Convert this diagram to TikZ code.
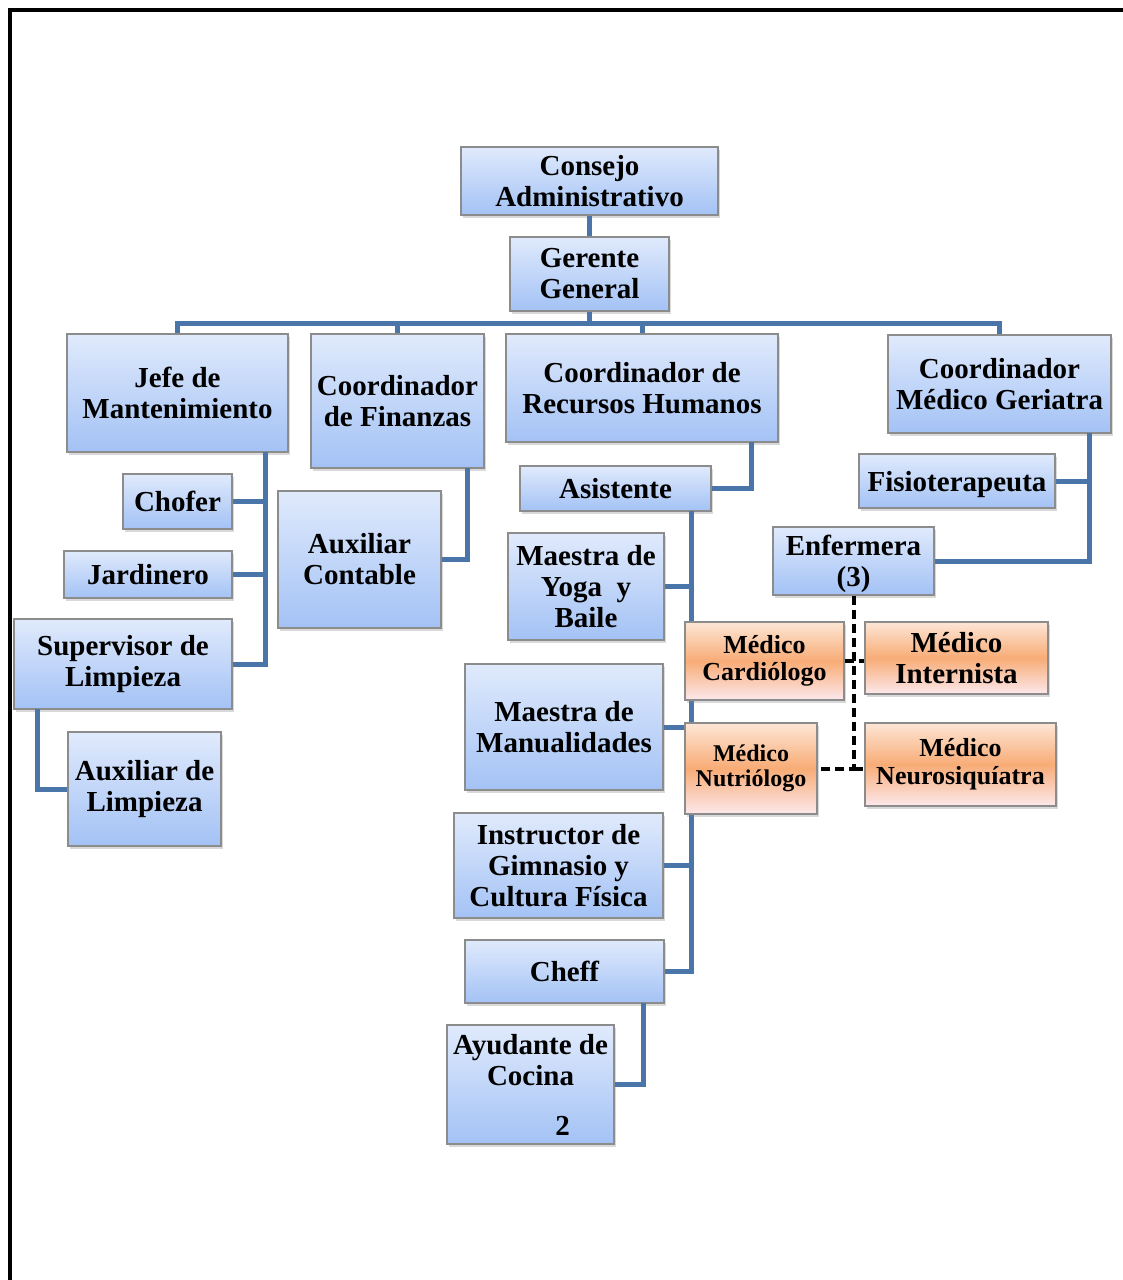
\documentclass[tikz,border=0pt]{standalone}
\usepackage{fontspec}
\setmainfont{Liberation Serif}
\usepackage{tikz}
\usetikzlibrary{shadows}

\definecolor{azularriba}{HTML}{E0EAFC}
\definecolor{azulabajo}{HTML}{A3C2F5}
\definecolor{naranjaarriba}{HTML}{FDE6D6}
\definecolor{naranjamedio}{HTML}{F8AC76}
\definecolor{naranjaabajo}{HTML}{FCE8EC}
\definecolor{lineaazul}{HTML}{4A75A9}
\definecolor{borde}{HTML}{8C8C8C}

\begin{document}
\begin{tikzpicture}[x=0.5pt,y=-0.5pt]
        \tikzstyle{puesto}=[draw=borde, line width=0.6pt, top color=azularriba, bottom color=azulabajo, align=center, inner sep=1pt, font=\fontsize{14.5}{15.5}\selectfont\bfseries, drop shadow={shadow xshift=1pt, shadow yshift=-1.3pt, opacity=0.3}]
        \tikzstyle{medico}=[puesto, top color=naranjaarriba, bottom color=naranjaabajo, middle color=naranjamedio]
        \tikzstyle{linea}=[draw=lineaazul, line width=2.5pt]
        \tikzstyle{punteada}=[draw=black, line width=2pt, dash pattern=on 4.5pt off 2.5pt]
        \useasboundingbox (0,0) rectangle (1123,1280);
        % marco
        \draw[line width=2pt] (9.5,1280) -- (9.5,10) -- (1123,10);
        % direccion
        \node[puesto, minimum width=128.5pt, minimum height=34pt] (consejo) at (589.5,181) {Consejo\\Administrativo};
        \node[puesto, minimum width=79.5pt, minimum height=37pt] (gerente) at (589.5,274) {Gerente\\General};
        \node[puesto, minimum width=110.5pt, minimum height=59pt] (jefe) at (177.5,393) {Jefe de\\Mantenimiento};
        \node[puesto, minimum width=86.5pt, minimum height=67pt] (finanzas) at (397.5,401) {Coordinador\\de Finanzas};
        \node[puesto, minimum width=136pt, minimum height=54pt] (rh) at (642,388) {Coordinador de\\Recursos Humanos};
        \node[puesto, minimum width=111.5pt, minimum height=49pt] (geriatra) at (999.5,384) {Coordinador\\Médico Geriatra};
        % mantenimiento
        \node[puesto, minimum width=54.5pt, minimum height=27.5pt] (chofer) at (177.5,501.5) {Chofer};
        \node[puesto, minimum width=84pt, minimum height=23.5pt] (jardinero) at (148,574.5) {Jardinero};
        \node[puesto, minimum width=109pt, minimum height=45pt] (supervisor) at (123,664) {Supervisor de\\Limpieza};
        \node[puesto, minimum width=76.5pt, minimum height=57pt] (auxlimp) at (144.5,789) {Auxiliar de\\Limpieza};
        % finanzas
        \node[puesto, minimum width=81.5pt, minimum height=68.5pt] (auxcont) at (359.5,559.5) {Auxiliar\\Contable};
        % recursos humanos
        \node[puesto, minimum width=95.5pt, minimum height=22.5pt] (asistente) at (615.5,488.5) {Asistente};
        \node[puesto, minimum width=78pt, minimum height=53.5pt] (yoga) at (586,586.5) {Maestra de\\Yoga~ y\\Baile};
        \node[puesto, minimum width=99pt, minimum height=63pt] (manual) at (564,727) {Maestra de\\Manualidades};
        \node[puesto, minimum width=104.5pt, minimum height=52.5pt] (gimnasio) at (558.5,865.5) {Instructor de\\Gimnasio y\\Cultura Física};
        \node[puesto, minimum width=99.5pt, minimum height=31.5pt] (cheff) at (564.5,971.5) {Cheff};
        \node[puesto, minimum width=83.5pt, minimum height=59.5pt] (ayudante) at (530.5,1084.5) {Ayudante de\\Cocina\\[9.5pt]\hspace*{32pt}2};
        % area medica
        \node[puesto, minimum width=98pt, minimum height=27pt, text depth=0pt] (fisio) at (957,481) {Fisioterapeuta};
        \node[puesto, minimum width=80.5pt, minimum height=34pt, text depth=0pt] (enfermera) at (853.5,561) {Enfermera\\(3)};

        \coordinate (bus) at (589.5,323);
        \draw[linea] (consejo) -- (gerente);
        \draw[linea] (gerente) -- (bus);
        \draw[linea] (jefe.north) |- (bus);
        \draw[linea] (finanzas.north) |- (bus);
        \draw[linea] (rh.north) |- (bus);
        \draw[linea] (geriatra.north) |- (bus);

        \coordinate (jv) at (265,452);
        \draw[linea] (jv) |- (chofer.east);
        \draw[linea] (jv) |- (jardinero.east);
        \draw[linea] (jv) |- (supervisor.east);
        \coordinate (sv) at (37,709);
        \draw[linea] (sv) |- (auxlimp.west);

        \coordinate (fv) at (467,468);
        \draw[linea] (fv) |- (auxcont.east);

        \coordinate (rv) at (751,442);
        \draw[linea] (rv) |- (asistente.east);
        \coordinate (av) at (691,511);
        \draw[linea] (av) |- (yoga.east);
        \draw[linea] (av) |- (manual.east);
        \draw[linea] (av) |- (gimnasio.east);
        \draw[linea] (av) |- (cheff.east);
        \coordinate (cv) at (643,1003);
        \draw[linea] (cv) |- (ayudante.east);

        \coordinate (gv) at (1089,433);
        \draw[linea] (gv) |- (fisio.east);
        \draw[linea] (gv) |- (enfermera.east);

        % medicos
        \node[medico, minimum width=79.5pt, minimum height=39pt, font=\fontsize{13}{13.5}\selectfont\bfseries] (cardio) at (764.5,661) {Médico\\Cardiólogo};
        \node[medico, minimum width=66pt, minimum height=45.5pt, font=\fontsize{12}{12.5}\selectfont\bfseries] (nutri) at (751,768.5) {Médico\\Nutriólogo};
        \node[medico, minimum width=91.5pt, minimum height=36pt] (intern) at (956.5,658) {Médico\\Internista};
        \node[medico, minimum width=95.5pt, minimum height=41.5pt, font=\fontsize{13}{14}\selectfont\bfseries] (neuro) at (960.5,764.5) {Médico\\Neurosiquíatra};

        \draw[punteada] (enfermera.south) -- (enfermera.south |- nutri.east) -- (nutri.east);
        \draw[punteada] (cardio.east) -- (cardio.east -| intern.west);
        \draw[punteada] (enfermera.south |- nutri.east) -- (nutri.east -| neuro.west);
\end{tikzpicture}
\end{document}
